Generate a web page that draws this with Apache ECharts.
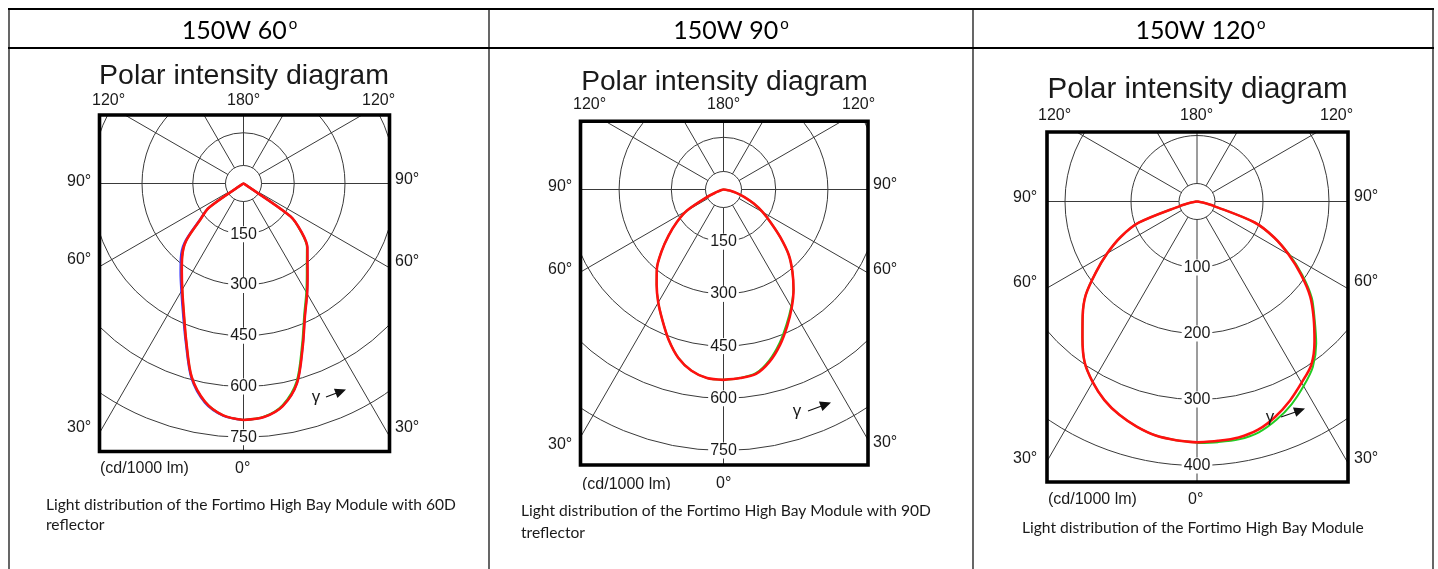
<!DOCTYPE html>
<html><head><meta charset="utf-8">
<script src="https://cdn.jsdelivr.net/npm/echarts@6/dist/echarts.min.js"></script>
<style>html,body{margin:0;padding:0;background:#fff}#c{width:1438px;height:569px}</style>
</head><body><div id="c"></div>
<script>
// ---- data (gamma in degrees, intensity in cd/1000 lm) ----
const gamma = [0,5,10,15,20,25,30,35,40,45,50,55,60,65,70,75,80,85,90];

const p60Right      = [699,693,668,611,512,430,376,330,294,267,224,170,4,0,0,0,0,0,0];
const p60Left       = [699,688,655,592,495,418,362,318,282,240,167,125,4,0,0,0,0,0,0];
const p60GreenRight = [699,692,665,606,506,425,371,326,291,265,222,169,4,0,0,0,0,0,0];
const p60BlueLeft   = [699,689,658,596,500,424,368,325,289,247,172,127,4,0,0,0,0,0,0];

const p90Right      = [547,544,538,512,475,433,392,351,308,265,213,166,130,96,64,38,18,6,0];
const p90Left       = [547,544,529,501,460,415,375,335,298,252,206,164,121,55,20,8,3,0,0];
const p90GreenRight = [547,544,536,508,470,428,389,350,308,265,213,166,130,96,64,38,18,6,0];

const p120Right      = [365,364,363,358,347,333,317,302,277,250,224,192,160,129,93,27,9,2,0];
const p120Left       = [365,363,360,353,344,332,316,297,270,245,220,187,157,128,94,27,9,2,0];
const p120GreenRight = [366,366,366,362,352,339,323,306,281,252,227,195,162,129,93,27,9,2,0];

const rings60  = [150,300,450,600,750];
const rings90  = [150,300,450,600,750];
const rings120 = [100,200,300,400];

const headers  = ['150W 60', '150W 90', '150W 120'];
const diagramTitle = 'Polar intensity diagram';
const topAngleLabels  = ['120°', '180°', '120°'];
const sideAngleLabels = ['90°', '60°', '30°'];
const bottomAngleLabel = '0°';
const unitLabel = '(cd/1000 lm)';
const captions = [
  ['Light distribution of the Fortimo High Bay Module with 60D', 'reflector'],
  ['Light distribution of the Fortimo High Bay Module with 90D', 'treflector'],
  ['Light distribution of the Fortimo High Bay Module']
];

// ---- layout ----
const cols = [0, 489, 973, 1438];
const panels = [
  { center:[243.5,183.5], frame:[99.5,115,389.5,451.5], outerA:310, radiusB:253.75, maxB:750, stepB:150, rings:rings60,
    curves:[{r:p60Right,l:p60BlueLeft,c:'#3b3bff',w:2,z:3},{r:p60GreenRight,l:p60Left,c:'#22cc22',w:2,z:3},{r:p60Right,l:p60Left,c:'#ff1010',w:2.6,z:4}],
    title:[244,76,28.5], top:[[92,101],[227,101],[362,101]], left:[67,[182,260,428]], right:[395,[180,262,428]],
    unit:[100,469], zero:[235,469], cap:[46,[505,525]], gam:[316,397,326,397,342,391] },
  { center:[723.5,189.5], frame:[580.5,121.3,868,465], outerA:314, radiusB:261, maxB:750, stepB:150, rings:rings90,
    curves:[{r:p90GreenRight,l:p90Left,c:'#22cc22',w:2,z:3},{r:p90Right,l:p90Left,c:'#ff1010',w:2.6,z:4}],
    title:[724.5,82,28.2], top:[[573,105],[707,105],[842,105]], left:[548,[187,270,445]], right:[873,[185,270,443]],
    unit:[582,485], zero:[716,484], cap:[521,[511,533]], gam:[797,411,808,411,827,404] },
  { center:[1197,201.5], frame:[1047,132,1348,482], outerA:322, radiusB:264, maxB:400, stepB:100, rings:rings120,
    curves:[{r:p120GreenRight,l:p120Left,c:'#22cc22',w:2,z:3},{r:p120Right,l:p120Left,c:'#ff1010',w:2.6,z:4}],
    title:[1197.5,90,29.5], top:[[1038,116],[1180,116],[1320,116]], left:[1013,[198,283,459]], right:[1354,[197,282,459]],
    unit:[1048,500], zero:[1188,500], cap:[1022,[528]], gam:[1270,417,1281,417,1301,410] }
];

function closedCurve(right, left) {
  const pts = [];
  for (let i = 0; i < gamma.length; i++) pts.push([right[i], gamma[i]]);
  pts.push([0, 180]);
  for (let i = gamma.length - 1; i >= 0; i--) pts.push([left[i], 360 - gamma[i]]);
  return pts;
}

const gridColor = '#3a3a3a';
const polar = [], angleAxis = [], radiusAxis = [], series = [], graphic = [];
const ARIAL = '"Liberation Sans", Arial, sans-serif';
const CAL = 'Lato, "Open Sans", sans-serif';

function txt(text, x, y, font, align, vAlign, z) {
  return { type:'text', x:x, y:y, z: z || 60, silent:true,
    style:{ text:text, font:font, fill:'#1a1a1a', align:align || 'left', verticalAlign:vAlign || 'middle' } };
}

panels.forEach((p, k) => {
  const ia = polar.length;
  polar.push({ center:p.center, radius:[18, p.outerA] });
  polar.push({ center:p.center, radius:[0, p.radiusB] });
  const noShow = { show:false };
  angleAxis.push({ polarIndex:ia, type:'value', min:0, max:360, interval:30, startAngle:270, clockwise:false,
    axisLine:noShow, axisTick:noShow, axisLabel:noShow, splitLine:{ show:true, lineStyle:{ color:gridColor, width:1 } } });
  radiusAxis.push({ polarIndex:ia, type:'value', min:0, max:1, interval:1,
    axisLine:noShow, axisTick:noShow, axisLabel:noShow, splitLine:{ show:true, lineStyle:{ color:gridColor, width:1 } } });
  angleAxis.push({ polarIndex:ia+1, type:'value', min:0, max:360, startAngle:270, clockwise:false,
    axisLine:noShow, axisTick:noShow, axisLabel:noShow, splitLine:noShow });
  radiusAxis.push({ polarIndex:ia+1, type:'value', min:0, max:p.maxB, interval:p.stepB,
    axisLine:noShow, axisTick:noShow, axisLabel:noShow, splitLine:{ show:true, lineStyle:{ color:gridColor, width:1 } } });

  p.curves.forEach(c => {
    series.push({ type:'line', coordinateSystem:'polar', polarIndex:ia+1, data:closedCurve(c.r, c.l),
      symbol:'none', smooth:0.3, z:c.z, silent:true, lineStyle:{ color:c.c, width:c.w, join:'round' } });
  });
  series.push({ type:'scatter', coordinateSystem:'polar', polarIndex:ia+1, symbolSize:2, silent:true, z:5,
    itemStyle:{ color:'rgba(255,255,255,0)', opacity:1 }, data:p.rings.map(v => [v, 0]),
    label:{ show:true, position:'inside', formatter:(q) => String(q.value[0]), color:'#1a1a1a', opacity:1, fontSize:16,
      fontFamily:ARIAL, backgroundColor:'#fff', padding:[0,2], textBorderWidth:0, textBorderColor:'transparent' } });

  // masks outside the frame (clip grid to the rectangle)
  const [fx0, fy0, fx1, fy1] = p.frame;
  const cx0 = cols[k], cx1 = cols[k+1];
  const m = (x, y, w, h) => ({ type:'rect', z:50, silent:true, shape:{ x, y, width:w, height:h }, style:{ fill:'#fff' } });
  graphic.push(m(cx0, 0, cx1 - cx0, fy0));
  graphic.push(m(cx0, fy1, cx1 - cx0, 569 - fy1));
  graphic.push(m(cx0, fy0 - 1, fx0 - cx0, fy1 - fy0 + 2));
  graphic.push(m(fx1, fy0 - 1, cx1 - fx1, fy1 - fy0 + 2));
  graphic.push({ type:'rect', z:60, silent:true, shape:{ x:fx0, y:fy0, width:fx1 - fx0, height:fy1 - fy0 },
    style:{ fill:'none', stroke:'#000', lineWidth:3.6 } });

  // texts
  graphic.push(txt(diagramTitle, p.title[0], p.title[1], p.title[2] + 'px ' + ARIAL, 'center'));
  topAngleLabels.forEach((t, i) => graphic.push(txt(t, p.top[i][0], p.top[i][1], '16px ' + ARIAL)));
  sideAngleLabels.forEach((t, i) => {
    graphic.push(txt(t, p.left[0], p.left[1][i], '16px ' + ARIAL));
    graphic.push(txt(t, p.right[0], p.right[1][i], '16px ' + ARIAL));
  });
  graphic.push(txt(unitLabel, p.unit[0], p.unit[1], '16px ' + ARIAL));
  graphic.push(txt(bottomAngleLabel, p.zero[0], p.zero[1], '16px ' + ARIAL));
  captions[k].forEach((t, i) => graphic.push(txt(t, p.cap[0], p.cap[1][i], '15.6px ' + CAL)));
  // header
  const hc = (cols[k] + cols[k+1]) / 2 + (k === 0 ? -5 : k === 2 ? -5 : 0);
  graphic.push({ type:'text', x:hc, y:31, z:60, silent:true,
    style:{ text:'{a|' + headers[k] + '}{s|o}', align:'center', verticalAlign:'middle',
      rich:{ a:{ font:'25px ' + CAL, fill:'#000' }, s:{ font:'15px ' + CAL, fill:'#000', padding:[0,0,14,2] } } } });
  // gamma arrow
  const g = p.gam;
  graphic.push(txt('γ', g[0], g[1], '17px ' + ARIAL, 'center', 'middle', 6));
  graphic.push({ type:'line', z:6, silent:true, shape:{ x1:g[2], y1:g[3], x2:g[4] - 4, y2:g[5] + 1.5 }, style:{ stroke:'#111', lineWidth:1.2 } });
  const ang = Math.atan2(g[5] - g[3], g[4] - g[2]);
  const tip = [g[4] + 4, g[5] - 1.5];
  graphic.push({ type:'polygon', z:6, silent:true, shape:{ points:[
      tip,
      [tip[0] - 11*Math.cos(ang) + 5*Math.sin(ang), tip[1] - 11*Math.sin(ang) - 5*Math.cos(ang)],
      [tip[0] - 11*Math.cos(ang) - 5*Math.sin(ang), tip[1] - 11*Math.sin(ang) + 5*Math.cos(ang)] ] },
    style:{ fill:'#111' } });
});

// clipped unit label in middle panel
graphic.push({ type:'rect', z:61, silent:true, shape:{ x:575, y:490, width:190, height:8 }, style:{ fill:'#fff' } });

// table borders
const L = (x1, y1, x2, y2, w) => ({ type:'line', z:62, silent:true, shape:{ x1, y1, x2, y2 }, style:{ stroke:'#000', lineWidth:w } });
graphic.push(L(8, 9, 1434, 9, 2));
graphic.push(L(8, 48, 1434, 48, 2));
[9, 489, 973, 1433].forEach(x => graphic.push(L(x, 8, x, 569, 1.2)));

const chart = echarts.init(document.getElementById('c'), null, { renderer:'canvas' });
chart.setOption({ animation:false, backgroundColor:'#fff', polar, angleAxis, radiusAxis, series, graphic });
</script></body></html>
